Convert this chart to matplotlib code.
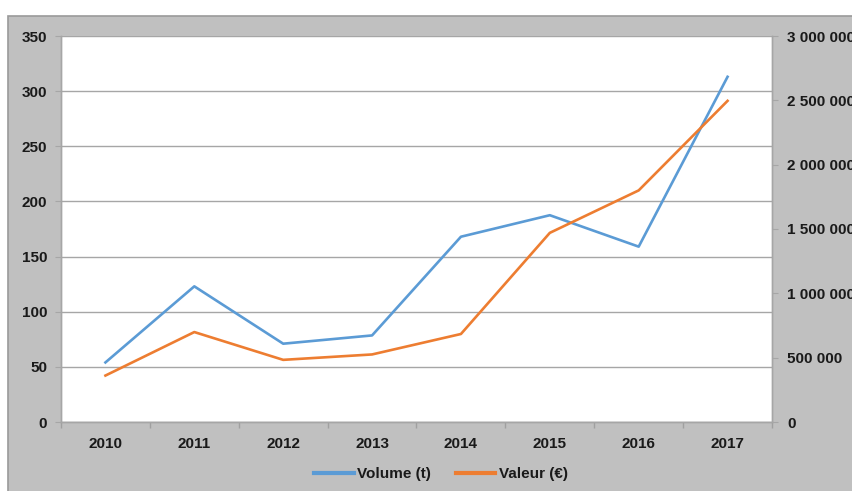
import matplotlib
matplotlib.use("Agg")
import matplotlib.pyplot as plt
from matplotlib.patches import Rectangle
from matplotlib.ticker import FuncFormatter, FixedLocator

years = ["2010", "2011", "2012", "2013", "2014", "2015", "2016", "2017"]
volume_t = [54, 123, 71, 78.5, 168, 187.5, 159, 313]
valeur_eur = [361000, 699000, 483000, 525000, 684000, 1470000, 1800000, 2496000]

W, H = 853, 491
plt.rcParams["font.family"] = ["Liberation Sans", "DejaVu Sans"]
fig = plt.figure(figsize=(W / 100, H / 100), dpi=100, facecolor="white")

# gray chart panel
panel = Rectangle((8 / W, -0.01), 1.01 - 8 / W, 1.01 - 16 / H, transform=fig.transFigure,
                  facecolor="#c0c0c0", edgecolor="#9a9a9a", linewidth=1.2, zorder=-10)
fig.add_artist(panel)

left, right, top, bottom = 61 / W, 772 / W, 36 / H, 422 / H
ax = fig.add_axes([left, 1 - bottom, right - left, bottom - top])
ax.set_facecolor("white")
ax2 = ax.twinx()

x = list(range(len(years)))
l1, = ax.plot(x, volume_t, color="#5b9bd5", lw=1.9, label="Volume (t)", zorder=3)
l2, = ax2.plot(x, valeur_eur, color="#ed7d31", lw=1.9, label="Valeur (€)", zorder=3)

ax.set_xlim(-0.5, len(years) - 0.5)
ax.set_ylim(0, 350)
ax2.set_ylim(0, 3000000)
ax.set_yticks(range(0, 351, 50))
ax2.set_yticks(range(0, 3000001, 500000))
ax2.yaxis.set_major_formatter(FuncFormatter(lambda v, p: f"{int(v):,}".replace(",", " ")))

ax.set_xticks(x)
ax.set_xticklabels(years)
ax.xaxis.set_minor_locator(FixedLocator([i - 0.5 for i in range(len(years) + 1)]))
ax.tick_params(axis="x", which="major", length=0, pad=11)
ax.tick_params(axis="x", which="minor", length=4, color="#a0a0a0", width=1)

ax.grid(axis="y", color="#a6a6a6", lw=1, zorder=1)
ax.set_axisbelow(True)

for a in (ax, ax2):
    for s in a.spines.values():
        s.set_color("#a6a6a6")
        s.set_linewidth(1)
    a.spines["top"].set_visible(False)

ax.tick_params(axis="y", length=4, color="#a6a6a6", pad=6)
ax2.tick_params(axis="y", length=4, color="#a6a6a6", pad=7)

for lab in ax.get_xticklabels() + ax.get_yticklabels() + ax2.get_yticklabels():
    lab.set_fontsize(11)
    lab.set_fontweight("bold")
    lab.set_color("#1a1a1a")

leg = fig.legend(handles=[l1, l2], labels=["Volume (t)", "Valeur (€)"],
                 loc="center", bbox_to_anchor=(441 / W, 1 - 474 / H), ncol=2,
                 frameon=False, handlelength=2.6, handletextpad=0.25, columnspacing=1.6,
                 prop={"weight": "bold", "size": 11})
for t in leg.get_texts():
    t.set_color("#1a1a1a")
for h in leg.get_lines():
    h.set_linewidth(3)

fig.savefig("out.png", dpi=100, facecolor="white")
